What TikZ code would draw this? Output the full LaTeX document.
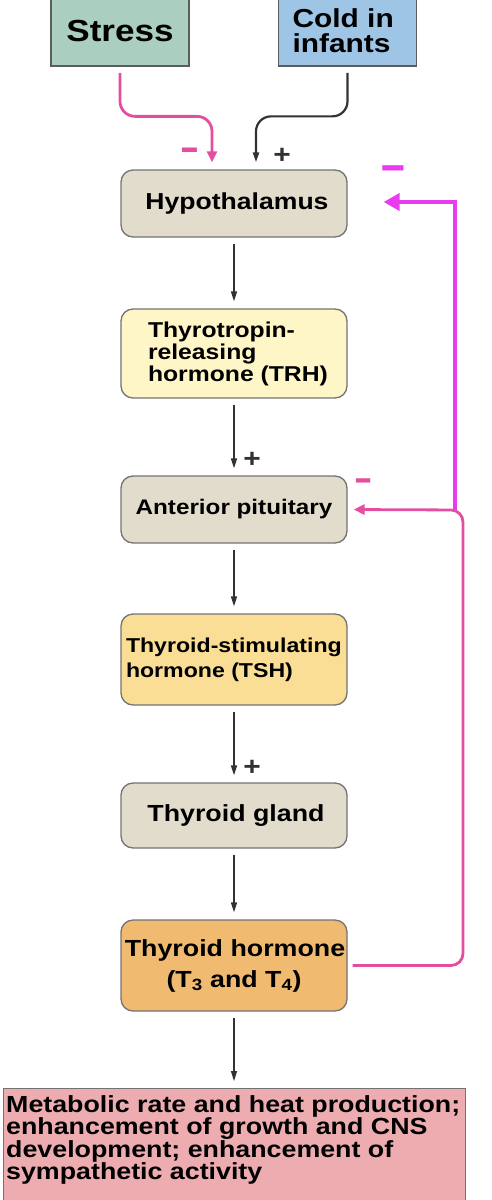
\documentclass[tikz,border=0pt]{standalone}
\usepackage{fontspec}
\setmainfont{Liberation Sans}[FakeStretch=1.15]
\usetikzlibrary{arrows.meta,calc}
\definecolor{pinkline}{RGB}{226,78,160}
\definecolor{magline}{RGB}{232,60,238}
\definecolor{boxborder}{RGB}{115,115,115}
\definecolor{beige}{RGB}{226,220,204}
\definecolor{trhfill}{RGB}{255,246,200}
\definecolor{tshfill}{RGB}{250,222,150}
\definecolor{hormfill}{RGB}{240,186,112}
\definecolor{outfill}{RGB}{236,172,176}
\definecolor{stressfill}{RGB}{170,206,192}
\definecolor{coldfill}{RGB}{158,196,230}
\definecolor{arrowdark}{RGB}{50,50,50}
\tikzset{
  flowbox/.style={draw=boxborder, line width=1.3pt, rounded corners=12pt,
    minimum width=226pt, inner sep=0pt, font=\bfseries, text=black, align=left},
  topbox/.style={draw=boxborder!80!black, line width=1.5pt, minimum width=138pt,
    minimum height=70pt, inner sep=0pt, font=\bfseries, align=left},
  darkarrow/.style={draw=arrowdark, line width=1.4pt,
    -{Triangle[length=10pt,width=6pt]}, shorten <=6pt, shorten >=7pt},
  pinkarrow/.style={draw=pinkline, line width=2.8pt,
    -{Triangle[length=11pt,width=10pt]}},
  magarrow/.style={draw=magline, line width=4pt,
    -{Triangle[length=16pt,width=17pt]}},
  signplus/.style={font=\bfseries\fontsize{26}{26}\selectfont, text=arrowdark, inner sep=0pt},
  signminus/.style={font=\bfseries\fontsize{24}{24}\selectfont, inner sep=0pt}
}
\begin{document}
\begin{tikzpicture}[x=1pt,y=-1pt]
\useasboundingbox (0,0) rectangle (492,1200);
\begin{scope}
\clip (0,0) rectangle (492,1200);
% top stimulus boxes
\node[topbox, fill=stressfill, font=\bfseries\fontsize{30.5}{30}\selectfont] (stress) at (120,31) {Stress};
\node[topbox, fill=coldfill, font=\bfseries\fontsize{26}{25}\selectfont] (cold) at (347.5,31) {\raisebox{8pt}{\parbox{110pt}{Cold in\\infants}}};
% cascade
\node[flowbox, fill=beige, minimum height=67pt, font=\bfseries\fontsize{23.1}{22}\selectfont] (hyp) at (234,203.5) {\hspace*{6pt}Hypothalamus};
\node[flowbox, fill=trhfill, minimum height=89pt, font=\bfseries\fontsize{21.5}{22}\selectfont] (trh) at (234,353.5) {\hspace*{8pt}\parbox{180pt}{Thyrotropin-\\releasing\\hormone (TRH)}};
\node[flowbox, fill=beige, minimum height=67pt, font=\bfseries\fontsize{21.1}{22}\selectfont] (pit) at (234,509.5) {Anterior pituitary};
\node[flowbox, fill=tshfill, minimum height=91pt, font=\bfseries\fontsize{20.1}{25}\selectfont] (tsh) at (234,659.5) {\hspace*{4pt}\parbox{220pt}{Thyroid-stimulating\\hormone (TSH)}};
\node[flowbox, fill=beige, minimum height=65pt, font=\bfseries\fontsize{23.3}{22}\selectfont] (gland) at (234,815.5) {\hspace*{4pt}Thyroid gland};
\node[flowbox, fill=hormfill, minimum height=91pt, font=\bfseries\fontsize{23.3}{31}\selectfont, align=center] (horm) at (234,965.5) {\hspace*{2pt}Thyroid hormone\\(T\textsubscript{3} and T\textsubscript{4})};
\node[draw=boxborder, line width=1.3pt, fill=outfill, minimum width=462pt, minimum height=118pt, inner sep=0pt, anchor=north west] (out) at (3,1088) {};
\node[anchor=north west, inner sep=0pt, align=left, font=\bfseries\fontsize{23.3}{22.5}\selectfont] (outtext) at (6,1095) {Metabolic rate and heat production;\\enhancement of growth and CNS\\development; enhancement of\\sympathetic activity};
% cascade arrows
\draw[darkarrow] (hyp) -- (trh);
\draw[darkarrow] (trh) -- (pit);
\draw[darkarrow] (pit) -- (tsh);
\draw[darkarrow] (tsh) -- (gland);
\draw[darkarrow] (gland) -- (horm);
\draw[darkarrow] (horm.south) -- (horm.south |- out.north);
% inputs
\draw[pinkarrow, rounded corners=15pt, shorten <=6pt, shorten >=7pt]
  (stress.south) |- ($(hyp.north)+(-22,-53)$) -- ($(hyp.north)+(-22,0)$);
\draw[darkarrow, line width=2.2pt, rounded corners=15pt]
  (cold.south) |- ($(hyp.north)+(22,-53)$) -- ($(hyp.north)+(22,0)$);
% feedback
\coordinate (fbturn) at (463,510);
\coordinate (magjoin) at (455,510);
\draw[pinkarrow, rounded corners=12pt, shorten <=5pt, shorten >=6pt]
  (horm.east) -| (fbturn) -- (pit.east);
\draw[magarrow, shorten >=36pt] (magjoin) |- ($(hyp.east)+(0,-1.5)$);
% signs
\node[signminus, text=pinkline] (m1) at (190,155) {\scalebox{1.1}[1.9]{–}};
\node[signplus] (p1) at (282,156) {+};
\node[signminus, text=magline] (m2) at (393,174) {\scalebox{1.55}[2.2]{–}};
\node[signplus] (p2) at (252,460) {+};
\node[signminus, text=pinkline] (m3) at (364,486) {\scalebox{1.05}[1.8]{–}};
\node[signplus] (p3) at (252,768) {+};
\end{scope}
\end{tikzpicture}
\end{document}
